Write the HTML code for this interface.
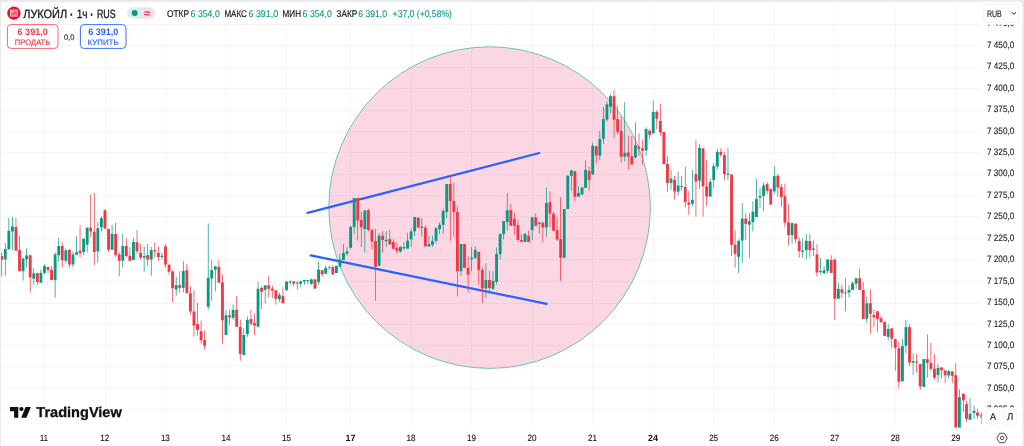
<!DOCTYPE html>
<html lang="ru"><head><meta charset="utf-8"><title>ЛУКОЙЛ · 1ч · RUS — TradingView</title>
<style>html,body{margin:0;padding:0;background:#e9e9e9;}body{width:1024px;height:446px;overflow:hidden;}svg{display:block}text{font-family:"Liberation Sans",sans-serif;text-rendering:geometricPrecision;}</style></head><body>
<svg width="1024" height="446" viewBox="0 0 1024 446">
<rect x="0" y="0" width="1024" height="446" fill="#e9e9e9"/>
<rect x="0.9" y="1.7" width="1021.3" height="460" rx="3" ry="3" fill="#ffffff"/>
<g stroke="#f6f6f7" stroke-width="1">
<line x1="44.5" y1="2" x2="44.5" y2="427.5" stroke="#f7f7f8"/>
<line x1="105.5" y1="2" x2="105.5" y2="427.5" stroke="#f7f7f8"/>
<line x1="165.5" y1="2" x2="165.5" y2="427.5" stroke="#f7f7f8"/>
<line x1="226.5" y1="2" x2="226.5" y2="427.5" stroke="#f7f7f8"/>
<line x1="286.5" y1="2" x2="286.5" y2="427.5" stroke="#f7f7f8"/>
<line x1="350.5" y1="2" x2="350.5" y2="427.5" stroke="#f7f7f8"/>
<line x1="411.5" y1="2" x2="411.5" y2="427.5" stroke="#f7f7f8"/>
<line x1="471.5" y1="2" x2="471.5" y2="427.5" stroke="#f7f7f8"/>
<line x1="532.5" y1="2" x2="532.5" y2="427.5" stroke="#f7f7f8"/>
<line x1="592.5" y1="2" x2="592.5" y2="427.5" stroke="#f7f7f8"/>
<line x1="653.5" y1="2" x2="653.5" y2="427.5" stroke="#f7f7f8"/>
<line x1="713.5" y1="2" x2="713.5" y2="427.5" stroke="#f7f7f8"/>
<line x1="774.5" y1="2" x2="774.5" y2="427.5" stroke="#f7f7f8"/>
<line x1="834.5" y1="2" x2="834.5" y2="427.5" stroke="#f7f7f8"/>
<line x1="895.5" y1="2" x2="895.5" y2="427.5" stroke="#f7f7f8"/>
<line x1="955.5" y1="2" x2="955.5" y2="427.5" stroke="#f7f7f8"/>
<line x1="1" y1="2.9" x2="980.7" y2="2.9" stroke-opacity="0.6"/>
<line x1="1" y1="24.5" x2="980.7" y2="24.5"/>
<line x1="1" y1="45.5" x2="980.7" y2="45.5"/>
<line x1="1" y1="67.5" x2="980.7" y2="67.5"/>
<line x1="1" y1="88.5" x2="980.7" y2="88.5"/>
<line x1="1" y1="110.5" x2="980.7" y2="110.5"/>
<line x1="1" y1="131.5" x2="980.7" y2="131.5"/>
<line x1="1" y1="152.5" x2="980.7" y2="152.5"/>
<line x1="1" y1="174.5" x2="980.7" y2="174.5"/>
<line x1="1" y1="195.5" x2="980.7" y2="195.5"/>
<line x1="1" y1="216.5" x2="980.7" y2="216.5"/>
<line x1="1" y1="238.5" x2="980.7" y2="238.5"/>
<line x1="1" y1="259.5" x2="980.7" y2="259.5"/>
<line x1="1" y1="281.5" x2="980.7" y2="281.5"/>
<line x1="1" y1="303.5" x2="980.7" y2="303.5"/>
<line x1="1" y1="324.5" x2="980.7" y2="324.5"/>
<line x1="1" y1="345.5" x2="980.7" y2="345.5"/>
<line x1="1" y1="366.5" x2="980.7" y2="366.5"/>
<line x1="1" y1="388.5" x2="980.7" y2="388.5"/>
<line x1="1" y1="409.5" x2="980.7" y2="409.5"/>
</g>
<circle cx="489.6" cy="207.6" r="160.8" fill="#e91e63" fill-opacity="0.18" stroke="#6cc3b4" stroke-width="1"/>
<g stroke="#2962ff" stroke-width="2.2" stroke-linecap="round"><line x1="307.5" y1="212.9" x2="539.3" y2="153.0"/><line x1="310.7" y1="255.3" x2="546.6" y2="303.9"/></g>
<clipPath id="cp"><rect x="1" y="2" width="981.0" height="425.5"/></clipPath>
<g id="candles" clip-path="url(#cp)">
<rect x="1.37" y="252.56" width="0.72" height="23.85" fill="#f23645"/>
<rect x="0.31" y="256.07" width="2.85" height="3.77" fill="#f23645"/>
<rect x="4.93" y="243.14" width="0.72" height="32.65" fill="#089981"/>
<rect x="3.86" y="249.04" width="2.85" height="10.42" fill="#089981"/>
<rect x="8.49" y="218.21" width="0.72" height="31.21" fill="#089981"/>
<rect x="7.43" y="230.76" width="2.85" height="18.66" fill="#089981"/>
<rect x="12.05" y="216.95" width="0.72" height="33.10" fill="#089981"/>
<rect x="10.99" y="226.37" width="2.85" height="5.02" fill="#089981"/>
<rect x="15.61" y="218.21" width="0.72" height="32.46" fill="#f23645"/>
<rect x="14.55" y="227.00" width="2.85" height="23.67" fill="#f23645"/>
<rect x="19.17" y="235.79" width="0.72" height="35.35" fill="#f23645"/>
<rect x="18.11" y="250.05" width="2.85" height="21.09" fill="#f23645"/>
<rect x="22.73" y="257.58" width="0.72" height="22.85" fill="#089981"/>
<rect x="21.67" y="258.58" width="2.85" height="12.56" fill="#089981"/>
<rect x="26.29" y="248.54" width="0.72" height="19.08" fill="#089981"/>
<rect x="25.23" y="255.32" width="2.85" height="4.14" fill="#089981"/>
<rect x="29.85" y="254.44" width="0.72" height="38.05" fill="#f23645"/>
<rect x="28.79" y="255.32" width="2.85" height="22.10" fill="#f23645"/>
<rect x="33.41" y="268.25" width="0.72" height="16.33" fill="#089981"/>
<rect x="32.35" y="273.27" width="2.85" height="5.40" fill="#089981"/>
<rect x="36.97" y="272.90" width="0.72" height="11.68" fill="#f23645"/>
<rect x="35.91" y="273.27" width="2.85" height="8.79" fill="#f23645"/>
<rect x="40.53" y="269.51" width="0.72" height="13.43" fill="#089981"/>
<rect x="39.47" y="272.90" width="2.85" height="9.79" fill="#089981"/>
<rect x="44.09" y="264.11" width="0.72" height="10.42" fill="#089981"/>
<rect x="43.03" y="266.12" width="2.85" height="6.78" fill="#089981"/>
<rect x="47.65" y="266.62" width="0.72" height="6.28" fill="#f23645"/>
<rect x="46.59" y="267.00" width="2.85" height="2.88" fill="#f23645"/>
<rect x="51.21" y="266.37" width="0.72" height="13.56" fill="#f23645"/>
<rect x="50.15" y="269.88" width="2.85" height="10.05" fill="#f23645"/>
<rect x="54.77" y="252.31" width="0.72" height="45.45" fill="#089981"/>
<rect x="53.71" y="254.44" width="2.85" height="25.49" fill="#089981"/>
<rect x="58.33" y="238.30" width="0.72" height="23.30" fill="#089981"/>
<rect x="57.27" y="246.03" width="2.85" height="9.29" fill="#089981"/>
<rect x="61.89" y="242.26" width="0.72" height="25.11" fill="#f23645"/>
<rect x="60.83" y="246.03" width="2.85" height="14.31" fill="#f23645"/>
<rect x="65.45" y="248.54" width="0.72" height="15.07" fill="#089981"/>
<rect x="64.39" y="250.30" width="2.85" height="10.42" fill="#089981"/>
<rect x="69.01" y="249.04" width="0.72" height="18.58" fill="#f23645"/>
<rect x="67.95" y="249.79" width="2.85" height="14.70" fill="#f23645"/>
<rect x="72.57" y="251.30" width="0.72" height="16.32" fill="#089981"/>
<rect x="71.51" y="254.44" width="2.85" height="10.05" fill="#089981"/>
<rect x="76.13" y="236.16" width="0.72" height="18.66" fill="#089981"/>
<rect x="75.07" y="252.31" width="2.85" height="2.51" fill="#089981"/>
<rect x="79.69" y="225.11" width="0.72" height="32.47" fill="#f23645"/>
<rect x="78.63" y="250.67" width="2.85" height="2.51" fill="#f23645"/>
<rect x="83.25" y="238.67" width="0.72" height="16.40" fill="#089981"/>
<rect x="82.19" y="238.67" width="2.85" height="13.26" fill="#089981"/>
<rect x="86.81" y="227.62" width="0.72" height="24.94" fill="#089981"/>
<rect x="85.75" y="227.62" width="2.85" height="16.96" fill="#089981"/>
<rect x="90.37" y="194.73" width="0.72" height="42.31" fill="#f23645"/>
<rect x="89.31" y="227.62" width="2.85" height="3.77" fill="#f23645"/>
<rect x="93.93" y="192.84" width="0.72" height="72.27" fill="#f23645"/>
<rect x="92.87" y="231.64" width="2.85" height="20.29" fill="#f23645"/>
<rect x="97.49" y="221.97" width="0.72" height="40.88" fill="#089981"/>
<rect x="96.42" y="228.25" width="2.85" height="23.05" fill="#089981"/>
<rect x="101.05" y="216.32" width="0.72" height="15.07" fill="#089981"/>
<rect x="99.98" y="218.21" width="2.85" height="9.16" fill="#089981"/>
<rect x="104.61" y="209.04" width="0.72" height="19.59" fill="#f23645"/>
<rect x="103.55" y="210.30" width="2.85" height="18.33" fill="#f23645"/>
<rect x="108.17" y="228.88" width="0.72" height="23.05" fill="#f23645"/>
<rect x="107.11" y="228.88" width="2.85" height="20.91" fill="#f23645"/>
<rect x="111.73" y="224.86" width="0.72" height="24.93" fill="#089981"/>
<rect x="110.67" y="233.90" width="2.85" height="15.89" fill="#089981"/>
<rect x="115.29" y="222.85" width="0.72" height="34.10" fill="#f23645"/>
<rect x="114.23" y="233.90" width="2.85" height="20.92" fill="#f23645"/>
<rect x="118.85" y="252.31" width="0.72" height="24.10" fill="#f23645"/>
<rect x="117.79" y="254.44" width="2.85" height="6.28" fill="#f23645"/>
<rect x="122.41" y="233.90" width="0.72" height="33.72" fill="#089981"/>
<rect x="121.35" y="246.03" width="2.85" height="14.69" fill="#089981"/>
<rect x="125.97" y="238.30" width="0.72" height="18.65" fill="#f23645"/>
<rect x="124.91" y="246.03" width="2.85" height="10.04" fill="#f23645"/>
<rect x="129.53" y="247.00" width="0.72" height="13.81" fill="#f23645"/>
<rect x="128.46" y="255.79" width="2.85" height="5.02" fill="#f23645"/>
<rect x="133.09" y="238.21" width="0.72" height="21.72" fill="#089981"/>
<rect x="132.02" y="241.97" width="2.85" height="17.96" fill="#089981"/>
<rect x="136.65" y="230.30" width="0.72" height="23.60" fill="#f23645"/>
<rect x="135.58" y="242.35" width="2.85" height="8.79" fill="#f23645"/>
<rect x="140.21" y="243.61" width="0.72" height="15.94" fill="#f23645"/>
<rect x="139.14" y="252.90" width="2.85" height="4.77" fill="#f23645"/>
<rect x="143.77" y="246.37" width="0.72" height="25.16" fill="#089981"/>
<rect x="142.70" y="256.04" width="2.85" height="1.63" fill="#089981"/>
<rect x="147.33" y="244.11" width="0.72" height="21.72" fill="#f23645"/>
<rect x="146.26" y="255.16" width="2.85" height="4.39" fill="#f23645"/>
<rect x="150.89" y="247.00" width="0.72" height="28.67" fill="#089981"/>
<rect x="149.82" y="250.14" width="2.85" height="9.41" fill="#089981"/>
<rect x="154.45" y="242.35" width="0.72" height="15.07" fill="#f23645"/>
<rect x="153.38" y="250.14" width="2.85" height="1.25" fill="#f23645"/>
<rect x="158.01" y="246.37" width="0.72" height="14.44" fill="#f23645"/>
<rect x="156.94" y="252.90" width="2.85" height="4.14" fill="#f23645"/>
<rect x="161.57" y="252.65" width="0.72" height="6.90" fill="#089981"/>
<rect x="160.50" y="255.79" width="2.85" height="1.25" fill="#089981"/>
<rect x="165.13" y="244.11" width="0.72" height="23.60" fill="#f23645"/>
<rect x="164.06" y="246.37" width="2.85" height="18.21" fill="#f23645"/>
<rect x="168.69" y="264.58" width="0.72" height="10.04" fill="#f23645"/>
<rect x="167.62" y="264.58" width="2.85" height="7.15" fill="#f23645"/>
<rect x="172.25" y="270.02" width="0.72" height="32.02" fill="#f23645"/>
<rect x="171.19" y="271.53" width="2.85" height="16.70" fill="#f23645"/>
<rect x="175.81" y="276.93" width="0.72" height="18.83" fill="#089981"/>
<rect x="174.75" y="285.09" width="2.85" height="4.40" fill="#089981"/>
<rect x="179.37" y="271.28" width="0.72" height="21.60" fill="#f23645"/>
<rect x="178.31" y="285.09" width="2.85" height="2.76" fill="#f23645"/>
<rect x="182.93" y="261.19" width="0.72" height="31.18" fill="#089981"/>
<rect x="181.87" y="271.03" width="2.85" height="16.82" fill="#089981"/>
<rect x="186.49" y="264.20" width="0.72" height="29.68" fill="#f23645"/>
<rect x="185.43" y="270.27" width="2.85" height="22.61" fill="#f23645"/>
<rect x="190.05" y="286.09" width="0.72" height="28.44" fill="#f23645"/>
<rect x="188.99" y="293.25" width="2.85" height="18.27" fill="#f23645"/>
<rect x="193.61" y="290.11" width="0.72" height="46.52" fill="#f23645"/>
<rect x="192.55" y="311.52" width="2.85" height="14.06" fill="#f23645"/>
<rect x="197.17" y="302.67" width="0.72" height="32.95" fill="#f23645"/>
<rect x="196.11" y="324.07" width="2.85" height="5.90" fill="#f23645"/>
<rect x="200.73" y="320.56" width="0.72" height="23.23" fill="#f23645"/>
<rect x="199.67" y="331.23" width="2.85" height="9.17" fill="#f23645"/>
<rect x="204.29" y="330.35" width="0.72" height="19.09" fill="#f23645"/>
<rect x="203.22" y="340.02" width="2.85" height="5.65" fill="#f23645"/>
<rect x="207.85" y="223.52" width="0.72" height="86.06" fill="#089981"/>
<rect x="206.78" y="277.81" width="2.85" height="28.88" fill="#089981"/>
<rect x="211.41" y="259.55" width="0.72" height="41.24" fill="#089981"/>
<rect x="210.34" y="270.02" width="2.85" height="8.54" fill="#089981"/>
<rect x="214.97" y="266.21" width="0.72" height="25.16" fill="#089981"/>
<rect x="213.90" y="266.26" width="2.85" height="3.51" fill="#089981"/>
<rect x="218.53" y="260.43" width="0.72" height="22.15" fill="#f23645"/>
<rect x="217.46" y="266.88" width="2.85" height="15.70" fill="#f23645"/>
<rect x="222.09" y="274.42" width="0.72" height="69.37" fill="#f23645"/>
<rect x="221.02" y="282.33" width="2.85" height="37.98" fill="#f23645"/>
<rect x="225.65" y="310.26" width="0.72" height="24.74" fill="#089981"/>
<rect x="224.58" y="315.28" width="2.85" height="19.72" fill="#089981"/>
<rect x="229.21" y="309.26" width="0.72" height="16.32" fill="#f23645"/>
<rect x="228.14" y="315.28" width="2.85" height="2.14" fill="#f23645"/>
<rect x="232.77" y="304.55" width="0.72" height="15.38" fill="#089981"/>
<rect x="231.70" y="309.88" width="2.85" height="7.91" fill="#089981"/>
<rect x="236.33" y="296.14" width="0.72" height="30.69" fill="#f23645"/>
<rect x="235.26" y="309.88" width="2.85" height="16.95" fill="#f23645"/>
<rect x="239.89" y="319.93" width="0.72" height="40.81" fill="#f23645"/>
<rect x="238.82" y="326.83" width="2.85" height="27.00" fill="#f23645"/>
<rect x="243.45" y="328.34" width="0.72" height="26.75" fill="#089981"/>
<rect x="242.38" y="335.00" width="2.85" height="20.09" fill="#089981"/>
<rect x="247.01" y="316.54" width="0.72" height="20.34" fill="#089981"/>
<rect x="245.94" y="319.93" width="2.85" height="14.19" fill="#089981"/>
<rect x="250.57" y="309.88" width="0.72" height="15.70" fill="#f23645"/>
<rect x="249.50" y="319.05" width="2.85" height="4.65" fill="#f23645"/>
<rect x="254.13" y="313.65" width="0.72" height="21.35" fill="#f23645"/>
<rect x="253.06" y="323.07" width="2.85" height="2.51" fill="#f23645"/>
<rect x="257.69" y="281.93" width="0.72" height="45.69" fill="#089981"/>
<rect x="256.62" y="288.83" width="2.85" height="37.79" fill="#089981"/>
<rect x="261.25" y="286.32" width="0.72" height="23.23" fill="#f23645"/>
<rect x="260.19" y="287.83" width="2.85" height="3.77" fill="#f23645"/>
<rect x="264.81" y="284.82" width="0.72" height="18.83" fill="#089981"/>
<rect x="263.75" y="285.32" width="2.85" height="4.52" fill="#089981"/>
<rect x="268.37" y="276.28" width="0.72" height="21.34" fill="#f23645"/>
<rect x="267.31" y="285.32" width="2.85" height="3.51" fill="#f23645"/>
<rect x="271.93" y="285.70" width="0.72" height="12.18" fill="#f23645"/>
<rect x="270.87" y="288.58" width="2.85" height="2.14" fill="#f23645"/>
<rect x="275.49" y="290.34" width="0.72" height="14.19" fill="#f23645"/>
<rect x="274.43" y="290.34" width="2.85" height="8.54" fill="#f23645"/>
<rect x="279.05" y="292.85" width="0.72" height="9.17" fill="#089981"/>
<rect x="277.99" y="295.11" width="2.85" height="4.02" fill="#089981"/>
<rect x="282.61" y="286.95" width="0.72" height="16.32" fill="#f23645"/>
<rect x="281.55" y="296.12" width="2.85" height="7.15" fill="#f23645"/>
<rect x="286.17" y="281.05" width="0.72" height="10.04" fill="#089981"/>
<rect x="285.11" y="281.55" width="2.85" height="8.54" fill="#089981"/>
<rect x="289.73" y="280.05" width="0.72" height="4.77" fill="#089981"/>
<rect x="288.67" y="281.55" width="2.85" height="1.01" fill="#089981"/>
<rect x="293.29" y="281.30" width="0.72" height="4.77" fill="#f23645"/>
<rect x="292.23" y="281.30" width="2.85" height="2.26" fill="#f23645"/>
<rect x="296.85" y="281.05" width="0.72" height="8.41" fill="#089981"/>
<rect x="295.78" y="282.56" width="2.85" height="1.00" fill="#089981"/>
<rect x="300.41" y="280.67" width="0.72" height="6.91" fill="#089981"/>
<rect x="299.34" y="281.30" width="2.85" height="2.51" fill="#089981"/>
<rect x="303.97" y="279.79" width="0.72" height="5.03" fill="#089981"/>
<rect x="302.90" y="280.05" width="2.85" height="1.50" fill="#089981"/>
<rect x="307.53" y="279.79" width="0.72" height="4.27" fill="#089981"/>
<rect x="306.46" y="280.05" width="2.85" height="1.00" fill="#089981"/>
<rect x="311.09" y="278.79" width="0.72" height="6.03" fill="#089981"/>
<rect x="310.02" y="279.42" width="2.85" height="4.39" fill="#089981"/>
<rect x="314.65" y="279.04" width="0.72" height="9.79" fill="#f23645"/>
<rect x="313.58" y="279.42" width="2.85" height="9.16" fill="#f23645"/>
<rect x="318.21" y="261.16" width="0.72" height="23.66" fill="#089981"/>
<rect x="317.14" y="269.58" width="2.85" height="12.35" fill="#089981"/>
<rect x="321.77" y="270.20" width="0.72" height="6.28" fill="#f23645"/>
<rect x="320.70" y="270.20" width="2.85" height="4.02" fill="#f23645"/>
<rect x="325.33" y="265.81" width="0.72" height="7.91" fill="#089981"/>
<rect x="324.26" y="267.94" width="2.85" height="5.78" fill="#089981"/>
<rect x="328.89" y="265.81" width="0.72" height="2.89" fill="#089981"/>
<rect x="327.82" y="267.44" width="2.85" height="0.88" fill="#089981"/>
<rect x="332.45" y="265.18" width="0.72" height="10.05" fill="#f23645"/>
<rect x="331.38" y="267.06" width="2.85" height="7.16" fill="#f23645"/>
<rect x="336.01" y="265.81" width="0.72" height="7.16" fill="#089981"/>
<rect x="334.94" y="265.81" width="2.85" height="7.16" fill="#089981"/>
<rect x="339.57" y="253.88" width="0.72" height="12.81" fill="#089981"/>
<rect x="338.50" y="259.53" width="2.85" height="7.16" fill="#089981"/>
<rect x="343.13" y="244.09" width="0.72" height="15.82" fill="#089981"/>
<rect x="342.06" y="252.88" width="2.85" height="7.03" fill="#089981"/>
<rect x="346.69" y="247.35" width="0.72" height="8.41" fill="#089981"/>
<rect x="345.62" y="251.37" width="2.85" height="2.26" fill="#089981"/>
<rect x="350.25" y="226.73" width="0.72" height="22.13" fill="#089981"/>
<rect x="349.19" y="226.73" width="2.85" height="21.12" fill="#089981"/>
<rect x="353.81" y="197.98" width="0.72" height="36.06" fill="#089981"/>
<rect x="352.75" y="197.98" width="2.85" height="29.13" fill="#089981"/>
<rect x="357.37" y="197.98" width="0.72" height="42.72" fill="#f23645"/>
<rect x="356.31" y="197.98" width="2.85" height="22.47" fill="#f23645"/>
<rect x="360.93" y="211.66" width="0.72" height="35.31" fill="#f23645"/>
<rect x="359.87" y="219.95" width="2.85" height="7.16" fill="#f23645"/>
<rect x="364.49" y="210.41" width="0.72" height="42.21" fill="#089981"/>
<rect x="363.42" y="210.41" width="2.85" height="18.58" fill="#089981"/>
<rect x="368.05" y="208.90" width="0.72" height="22.38" fill="#f23645"/>
<rect x="366.98" y="210.16" width="2.85" height="19.84" fill="#f23645"/>
<rect x="371.61" y="229.62" width="0.72" height="19.87" fill="#f23645"/>
<rect x="370.54" y="229.62" width="2.85" height="11.95" fill="#f23645"/>
<rect x="375.17" y="228.77" width="0.72" height="71.82" fill="#f23645"/>
<rect x="374.10" y="241.07" width="2.85" height="25.62" fill="#f23645"/>
<rect x="378.73" y="232.79" width="0.72" height="33.02" fill="#089981"/>
<rect x="377.66" y="235.67" width="2.85" height="30.14" fill="#089981"/>
<rect x="382.29" y="231.28" width="0.72" height="21.34" fill="#f23645"/>
<rect x="381.22" y="235.67" width="2.85" height="4.40" fill="#f23645"/>
<rect x="385.85" y="231.28" width="0.72" height="15.69" fill="#089981"/>
<rect x="384.78" y="239.82" width="2.85" height="1.25" fill="#089981"/>
<rect x="389.41" y="230.02" width="0.72" height="14.44" fill="#f23645"/>
<rect x="388.34" y="239.06" width="2.85" height="5.40" fill="#f23645"/>
<rect x="392.97" y="239.06" width="0.72" height="9.80" fill="#f23645"/>
<rect x="391.90" y="241.95" width="2.85" height="6.91" fill="#f23645"/>
<rect x="396.53" y="242.58" width="0.72" height="11.30" fill="#f23645"/>
<rect x="395.46" y="247.85" width="2.85" height="2.89" fill="#f23645"/>
<rect x="400.09" y="246.09" width="0.72" height="6.53" fill="#089981"/>
<rect x="399.02" y="246.97" width="2.85" height="4.65" fill="#089981"/>
<rect x="403.65" y="242.33" width="0.72" height="7.78" fill="#089981"/>
<rect x="402.58" y="246.97" width="2.85" height="1.26" fill="#089981"/>
<rect x="407.21" y="232.79" width="0.72" height="15.82" fill="#089981"/>
<rect x="406.14" y="240.70" width="2.85" height="7.91" fill="#089981"/>
<rect x="410.77" y="228.37" width="0.72" height="18.60" fill="#089981"/>
<rect x="409.70" y="231.53" width="2.85" height="7.91" fill="#089981"/>
<rect x="414.33" y="217.06" width="0.72" height="18.99" fill="#089981"/>
<rect x="413.26" y="217.06" width="2.85" height="14.22" fill="#089981"/>
<rect x="417.89" y="217.06" width="0.72" height="11.31" fill="#f23645"/>
<rect x="416.82" y="217.69" width="2.85" height="9.80" fill="#f23645"/>
<rect x="421.45" y="218.32" width="0.72" height="18.23" fill="#089981"/>
<rect x="420.38" y="226.73" width="2.85" height="1.26" fill="#089981"/>
<rect x="425.01" y="225.23" width="0.72" height="21.12" fill="#f23645"/>
<rect x="423.94" y="227.74" width="2.85" height="18.61" fill="#f23645"/>
<rect x="428.57" y="235.67" width="0.72" height="11.30" fill="#089981"/>
<rect x="427.50" y="244.09" width="2.85" height="2.26" fill="#089981"/>
<rect x="432.13" y="235.67" width="0.72" height="11.30" fill="#089981"/>
<rect x="431.06" y="241.07" width="2.85" height="3.77" fill="#089981"/>
<rect x="435.69" y="227.11" width="0.72" height="16.72" fill="#089981"/>
<rect x="434.62" y="228.25" width="2.85" height="12.56" fill="#089981"/>
<rect x="439.25" y="222.60" width="0.72" height="11.30" fill="#089981"/>
<rect x="438.19" y="224.86" width="2.85" height="4.27" fill="#089981"/>
<rect x="442.81" y="208.79" width="0.72" height="25.11" fill="#089981"/>
<rect x="441.75" y="211.05" width="2.85" height="13.81" fill="#089981"/>
<rect x="446.37" y="184.04" width="0.72" height="34.17" fill="#089981"/>
<rect x="445.31" y="184.04" width="2.85" height="27.89" fill="#089981"/>
<rect x="449.93" y="175.13" width="0.72" height="65.68" fill="#f23645"/>
<rect x="448.87" y="184.04" width="2.85" height="16.96" fill="#f23645"/>
<rect x="453.49" y="182.53" width="0.72" height="54.51" fill="#f23645"/>
<rect x="452.43" y="201.00" width="2.85" height="10.93" fill="#f23645"/>
<rect x="457.05" y="206.28" width="0.72" height="90.06" fill="#f23645"/>
<rect x="455.98" y="211.93" width="2.85" height="59.30" fill="#f23645"/>
<rect x="460.61" y="243.95" width="0.72" height="32.30" fill="#089981"/>
<rect x="459.54" y="243.95" width="2.85" height="27.28" fill="#089981"/>
<rect x="464.17" y="243.95" width="0.72" height="23.89" fill="#f23645"/>
<rect x="463.10" y="243.95" width="2.85" height="23.89" fill="#f23645"/>
<rect x="467.73" y="256.16" width="0.72" height="36.42" fill="#f23645"/>
<rect x="466.66" y="267.84" width="2.85" height="6.78" fill="#f23645"/>
<rect x="471.29" y="247.09" width="0.72" height="24.14" fill="#089981"/>
<rect x="470.22" y="257.79" width="2.85" height="1.51" fill="#089981"/>
<rect x="474.85" y="246.46" width="0.72" height="12.59" fill="#089981"/>
<rect x="473.78" y="249.88" width="2.85" height="7.91" fill="#089981"/>
<rect x="478.41" y="251.77" width="0.72" height="33.27" fill="#f23645"/>
<rect x="477.34" y="251.77" width="2.85" height="18.20" fill="#f23645"/>
<rect x="481.97" y="267.46" width="0.72" height="35.54" fill="#f23645"/>
<rect x="480.90" y="269.97" width="2.85" height="18.46" fill="#f23645"/>
<rect x="485.53" y="263.32" width="0.72" height="34.65" fill="#089981"/>
<rect x="484.46" y="280.02" width="2.85" height="8.41" fill="#089981"/>
<rect x="489.09" y="270.85" width="0.72" height="22.98" fill="#f23645"/>
<rect x="488.02" y="280.02" width="2.85" height="7.91" fill="#f23645"/>
<rect x="492.65" y="271.23" width="0.72" height="18.83" fill="#089981"/>
<rect x="491.58" y="280.90" width="2.85" height="7.91" fill="#089981"/>
<rect x="496.21" y="247.46" width="0.72" height="37.20" fill="#089981"/>
<rect x="495.14" y="254.03" width="2.85" height="27.87" fill="#089981"/>
<rect x="499.77" y="233.90" width="0.72" height="25.65" fill="#089981"/>
<rect x="498.70" y="233.90" width="2.85" height="20.13" fill="#089981"/>
<rect x="503.33" y="221.09" width="0.72" height="18.46" fill="#089981"/>
<rect x="502.26" y="221.09" width="2.85" height="13.06" fill="#089981"/>
<rect x="506.89" y="193.09" width="0.72" height="37.67" fill="#089981"/>
<rect x="505.82" y="210.30" width="2.85" height="11.67" fill="#089981"/>
<rect x="510.45" y="204.02" width="0.72" height="21.72" fill="#f23645"/>
<rect x="509.38" y="210.05" width="2.85" height="15.69" fill="#f23645"/>
<rect x="514.01" y="212.56" width="0.72" height="22.35" fill="#f23645"/>
<rect x="512.95" y="218.58" width="2.85" height="7.16" fill="#f23645"/>
<rect x="517.57" y="220.09" width="0.72" height="21.97" fill="#f23645"/>
<rect x="516.51" y="225.11" width="2.85" height="14.82" fill="#f23645"/>
<rect x="521.13" y="233.90" width="0.72" height="7.79" fill="#f23645"/>
<rect x="520.07" y="239.93" width="2.85" height="1.76" fill="#f23645"/>
<rect x="524.69" y="232.90" width="0.72" height="9.16" fill="#089981"/>
<rect x="523.63" y="233.90" width="2.85" height="8.16" fill="#089981"/>
<rect x="528.25" y="230.76" width="0.72" height="11.30" fill="#f23645"/>
<rect x="527.19" y="235.79" width="2.85" height="6.27" fill="#f23645"/>
<rect x="531.81" y="217.33" width="0.72" height="22.60" fill="#089981"/>
<rect x="530.75" y="217.33" width="2.85" height="12.81" fill="#089981"/>
<rect x="535.37" y="213.18" width="0.72" height="12.56" fill="#f23645"/>
<rect x="534.31" y="217.33" width="2.85" height="8.41" fill="#f23645"/>
<rect x="538.93" y="222.35" width="0.72" height="11.55" fill="#089981"/>
<rect x="537.87" y="222.35" width="2.85" height="1.51" fill="#089981"/>
<rect x="542.49" y="221.35" width="0.72" height="20.71" fill="#f23645"/>
<rect x="541.43" y="222.85" width="2.85" height="4.52" fill="#f23645"/>
<rect x="546.05" y="187.57" width="0.72" height="49.09" fill="#089981"/>
<rect x="544.99" y="203.14" width="2.85" height="24.23" fill="#089981"/>
<rect x="549.61" y="191.44" width="0.72" height="35.56" fill="#f23645"/>
<rect x="548.55" y="202.11" width="2.85" height="11.45" fill="#f23645"/>
<rect x="553.17" y="211.55" width="0.72" height="19.21" fill="#f23645"/>
<rect x="552.11" y="213.81" width="2.85" height="16.95" fill="#f23645"/>
<rect x="556.73" y="216.95" width="0.72" height="23.86" fill="#f23645"/>
<rect x="555.67" y="230.14" width="2.85" height="9.41" fill="#f23645"/>
<rect x="560.29" y="197.09" width="0.72" height="83.81" fill="#f23645"/>
<rect x="559.23" y="238.93" width="2.85" height="18.86" fill="#f23645"/>
<rect x="563.85" y="209.04" width="0.72" height="48.75" fill="#089981"/>
<rect x="562.79" y="209.04" width="2.85" height="48.75" fill="#089981"/>
<rect x="567.41" y="175.11" width="0.72" height="33.91" fill="#089981"/>
<rect x="566.35" y="175.74" width="2.85" height="33.28" fill="#089981"/>
<rect x="570.97" y="170.34" width="0.72" height="20.47" fill="#089981"/>
<rect x="569.91" y="170.34" width="2.85" height="5.40" fill="#089981"/>
<rect x="574.53" y="171.09" width="0.72" height="29.76" fill="#f23645"/>
<rect x="573.47" y="171.09" width="2.85" height="25.62" fill="#f23645"/>
<rect x="578.09" y="186.16" width="0.72" height="10.55" fill="#089981"/>
<rect x="577.03" y="192.94" width="2.85" height="3.77" fill="#089981"/>
<rect x="581.65" y="187.42" width="0.72" height="7.16" fill="#089981"/>
<rect x="580.59" y="187.42" width="2.85" height="7.16" fill="#089981"/>
<rect x="585.21" y="160.30" width="0.72" height="27.62" fill="#089981"/>
<rect x="584.15" y="169.84" width="2.85" height="18.08" fill="#089981"/>
<rect x="588.77" y="166.32" width="0.72" height="24.49" fill="#f23645"/>
<rect x="587.71" y="170.72" width="2.85" height="9.16" fill="#f23645"/>
<rect x="592.33" y="142.59" width="0.72" height="31.90" fill="#089981"/>
<rect x="591.27" y="145.73" width="2.85" height="28.76" fill="#089981"/>
<rect x="595.89" y="146.11" width="0.72" height="17.45" fill="#f23645"/>
<rect x="594.83" y="146.11" width="2.85" height="9.54" fill="#f23645"/>
<rect x="599.45" y="131.17" width="0.72" height="28.88" fill="#089981"/>
<rect x="598.39" y="138.95" width="2.85" height="16.70" fill="#089981"/>
<rect x="603.01" y="106.83" width="0.72" height="37.17" fill="#089981"/>
<rect x="601.95" y="119.14" width="2.85" height="19.71" fill="#089981"/>
<rect x="606.57" y="101.56" width="0.72" height="20.09" fill="#089981"/>
<rect x="605.51" y="104.32" width="2.85" height="15.32" fill="#089981"/>
<rect x="610.13" y="94.03" width="0.72" height="19.71" fill="#089981"/>
<rect x="609.07" y="96.16" width="2.85" height="10.67" fill="#089981"/>
<rect x="613.69" y="89.88" width="0.72" height="47.72" fill="#f23645"/>
<rect x="612.63" y="96.16" width="2.85" height="23.48" fill="#f23645"/>
<rect x="617.25" y="105.58" width="0.72" height="28.88" fill="#f23645"/>
<rect x="616.19" y="119.14" width="2.85" height="12.56" fill="#f23645"/>
<rect x="620.81" y="116.25" width="0.72" height="46.44" fill="#f23645"/>
<rect x="619.75" y="131.05" width="2.85" height="25.61" fill="#f23645"/>
<rect x="624.37" y="102.06" width="0.72" height="59.38" fill="#089981"/>
<rect x="623.31" y="152.90" width="2.85" height="3.76" fill="#089981"/>
<rect x="627.93" y="135.70" width="0.72" height="33.90" fill="#f23645"/>
<rect x="626.87" y="152.40" width="2.85" height="4.26" fill="#f23645"/>
<rect x="631.49" y="136.07" width="0.72" height="28.51" fill="#f23645"/>
<rect x="630.43" y="156.41" width="2.85" height="8.17" fill="#f23645"/>
<rect x="635.05" y="122.26" width="0.72" height="36.41" fill="#089981"/>
<rect x="633.99" y="145.11" width="2.85" height="12.31" fill="#089981"/>
<rect x="638.61" y="133.18" width="0.72" height="22.61" fill="#f23645"/>
<rect x="637.55" y="146.62" width="2.85" height="2.01" fill="#f23645"/>
<rect x="642.17" y="139.46" width="0.72" height="25.12" fill="#f23645"/>
<rect x="641.11" y="148.25" width="2.85" height="2.51" fill="#f23645"/>
<rect x="645.73" y="127.28" width="0.72" height="28.51" fill="#089981"/>
<rect x="644.67" y="129.04" width="2.85" height="21.35" fill="#089981"/>
<rect x="649.29" y="129.04" width="0.72" height="9.79" fill="#f23645"/>
<rect x="648.23" y="130.67" width="2.85" height="4.15" fill="#f23645"/>
<rect x="652.85" y="100.81" width="0.72" height="32.64" fill="#089981"/>
<rect x="651.79" y="111.86" width="2.85" height="21.59" fill="#089981"/>
<rect x="656.41" y="109.97" width="0.72" height="19.47" fill="#f23645"/>
<rect x="655.35" y="111.86" width="2.85" height="6.90" fill="#f23645"/>
<rect x="659.97" y="103.70" width="0.72" height="32.00" fill="#f23645"/>
<rect x="658.91" y="120.90" width="2.85" height="11.66" fill="#f23645"/>
<rect x="663.53" y="131.93" width="0.72" height="32.27" fill="#f23645"/>
<rect x="662.47" y="131.93" width="2.85" height="32.27" fill="#f23645"/>
<rect x="667.09" y="156.41" width="0.72" height="35.28" fill="#f23645"/>
<rect x="666.03" y="163.95" width="2.85" height="18.95" fill="#f23645"/>
<rect x="670.65" y="170.23" width="0.72" height="19.70" fill="#089981"/>
<rect x="669.59" y="178.63" width="2.85" height="4.27" fill="#089981"/>
<rect x="674.21" y="175.74" width="0.72" height="23.78" fill="#f23645"/>
<rect x="673.15" y="179.88" width="2.85" height="11.56" fill="#f23645"/>
<rect x="677.77" y="171.60" width="0.72" height="23.85" fill="#089981"/>
<rect x="676.71" y="185.41" width="2.85" height="6.28" fill="#089981"/>
<rect x="681.33" y="176.12" width="0.72" height="14.69" fill="#089981"/>
<rect x="680.27" y="186.16" width="2.85" height="0.88" fill="#089981"/>
<rect x="684.89" y="166.95" width="0.72" height="40.60" fill="#f23645"/>
<rect x="683.83" y="187.04" width="2.85" height="14.99" fill="#f23645"/>
<rect x="688.45" y="190.81" width="0.72" height="24.02" fill="#f23645"/>
<rect x="687.39" y="202.53" width="2.85" height="2.26" fill="#f23645"/>
<rect x="692.01" y="170.09" width="0.72" height="35.96" fill="#089981"/>
<rect x="690.95" y="199.77" width="2.85" height="4.02" fill="#089981"/>
<rect x="695.57" y="139.84" width="0.72" height="76.88" fill="#f23645"/>
<rect x="694.51" y="174.11" width="2.85" height="7.53" fill="#f23645"/>
<rect x="699.13" y="144.11" width="0.72" height="44.82" fill="#089981"/>
<rect x="698.07" y="147.88" width="2.85" height="32.88" fill="#089981"/>
<rect x="702.69" y="148.25" width="0.72" height="68.47" fill="#f23645"/>
<rect x="701.63" y="148.25" width="2.85" height="38.16" fill="#f23645"/>
<rect x="706.25" y="159.79" width="0.72" height="46.26" fill="#f23645"/>
<rect x="705.19" y="186.41" width="2.85" height="10.22" fill="#f23645"/>
<rect x="709.81" y="178.63" width="0.72" height="18.00" fill="#089981"/>
<rect x="708.75" y="182.02" width="2.85" height="14.61" fill="#089981"/>
<rect x="713.37" y="163.18" width="0.72" height="24.49" fill="#089981"/>
<rect x="712.31" y="166.07" width="2.85" height="13.81" fill="#089981"/>
<rect x="716.93" y="148.63" width="0.72" height="20.46" fill="#089981"/>
<rect x="715.87" y="151.88" width="2.85" height="14.69" fill="#089981"/>
<rect x="720.49" y="148.25" width="0.72" height="9.03" fill="#f23645"/>
<rect x="719.43" y="151.88" width="2.85" height="2.89" fill="#f23645"/>
<rect x="724.05" y="151.88" width="0.72" height="28.26" fill="#f23645"/>
<rect x="722.99" y="155.02" width="2.85" height="19.09" fill="#f23645"/>
<rect x="727.61" y="148.25" width="0.72" height="31.63" fill="#089981"/>
<rect x="726.55" y="173.61" width="2.85" height="1.25" fill="#089981"/>
<rect x="731.17" y="174.49" width="0.72" height="81.37" fill="#f23645"/>
<rect x="730.11" y="174.49" width="2.85" height="70.32" fill="#f23645"/>
<rect x="734.73" y="230.15" width="0.72" height="37.26" fill="#f23645"/>
<rect x="733.67" y="244.56" width="2.85" height="9.41" fill="#f23645"/>
<rect x="738.29" y="239.28" width="0.72" height="33.53" fill="#089981"/>
<rect x="737.23" y="241.04" width="2.85" height="15.82" fill="#089981"/>
<rect x="741.85" y="203.28" width="0.72" height="59.48" fill="#089981"/>
<rect x="740.79" y="218.60" width="2.85" height="21.94" fill="#089981"/>
<rect x="745.41" y="212.95" width="0.72" height="27.00" fill="#f23645"/>
<rect x="744.35" y="218.60" width="2.85" height="5.28" fill="#f23645"/>
<rect x="748.97" y="212.95" width="0.72" height="44.79" fill="#089981"/>
<rect x="747.91" y="221.36" width="2.85" height="3.27" fill="#089981"/>
<rect x="752.53" y="201.27" width="0.72" height="30.14" fill="#089981"/>
<rect x="751.47" y="211.70" width="2.85" height="10.42" fill="#089981"/>
<rect x="756.09" y="178.63" width="0.72" height="38.46" fill="#089981"/>
<rect x="755.03" y="199.14" width="2.85" height="17.95" fill="#089981"/>
<rect x="759.65" y="187.67" width="0.72" height="20.26" fill="#089981"/>
<rect x="758.59" y="195.83" width="2.85" height="1.63" fill="#089981"/>
<rect x="763.21" y="182.40" width="0.72" height="28.42" fill="#089981"/>
<rect x="762.15" y="185.41" width="2.85" height="10.42" fill="#089981"/>
<rect x="766.77" y="182.02" width="0.72" height="12.18" fill="#f23645"/>
<rect x="765.71" y="184.15" width="2.85" height="6.66" fill="#f23645"/>
<rect x="770.33" y="188.93" width="0.72" height="15.61" fill="#f23645"/>
<rect x="769.27" y="188.93" width="2.85" height="15.61" fill="#f23645"/>
<rect x="773.89" y="166.32" width="0.72" height="27.88" fill="#089981"/>
<rect x="772.83" y="176.12" width="2.85" height="15.32" fill="#089981"/>
<rect x="777.45" y="174.11" width="0.72" height="22.60" fill="#f23645"/>
<rect x="776.39" y="175.74" width="2.85" height="11.68" fill="#f23645"/>
<rect x="781.01" y="183.90" width="0.72" height="22.77" fill="#f23645"/>
<rect x="779.95" y="187.04" width="2.85" height="9.96" fill="#f23645"/>
<rect x="784.57" y="183.65" width="0.72" height="43.74" fill="#f23645"/>
<rect x="783.51" y="196.21" width="2.85" height="26.41" fill="#f23645"/>
<rect x="788.13" y="204.16" width="0.72" height="41.40" fill="#f23645"/>
<rect x="787.07" y="222.37" width="2.85" height="12.77" fill="#f23645"/>
<rect x="791.69" y="222.33" width="0.72" height="21.34" fill="#089981"/>
<rect x="790.63" y="223.21" width="2.85" height="11.93" fill="#089981"/>
<rect x="795.25" y="223.58" width="0.72" height="19.72" fill="#f23645"/>
<rect x="794.19" y="223.58" width="2.85" height="15.57" fill="#f23645"/>
<rect x="798.81" y="237.27" width="0.72" height="20.47" fill="#f23645"/>
<rect x="797.75" y="240.79" width="2.85" height="10.30" fill="#f23645"/>
<rect x="802.37" y="238.28" width="0.72" height="19.46" fill="#089981"/>
<rect x="801.31" y="250.58" width="2.85" height="1.26" fill="#089981"/>
<rect x="805.93" y="233.88" width="0.72" height="25.49" fill="#089981"/>
<rect x="804.87" y="240.79" width="2.85" height="9.42" fill="#089981"/>
<rect x="809.49" y="233.88" width="0.72" height="23.86" fill="#f23645"/>
<rect x="808.43" y="241.04" width="2.85" height="9.17" fill="#f23645"/>
<rect x="813.05" y="240.54" width="0.72" height="15.32" fill="#089981"/>
<rect x="811.99" y="248.57" width="2.85" height="1.26" fill="#089981"/>
<rect x="816.61" y="244.31" width="0.72" height="32.27" fill="#f23645"/>
<rect x="815.55" y="254.35" width="2.85" height="18.08" fill="#f23645"/>
<rect x="820.17" y="257.74" width="0.72" height="16.70" fill="#089981"/>
<rect x="819.11" y="271.18" width="2.85" height="1.00" fill="#089981"/>
<rect x="823.73" y="266.15" width="0.72" height="7.91" fill="#089981"/>
<rect x="822.67" y="270.30" width="2.85" height="2.89" fill="#089981"/>
<rect x="827.29" y="259.42" width="0.72" height="14.19" fill="#089981"/>
<rect x="826.23" y="259.42" width="2.85" height="11.30" fill="#089981"/>
<rect x="830.85" y="255.27" width="0.72" height="17.58" fill="#f23645"/>
<rect x="829.79" y="260.05" width="2.85" height="12.80" fill="#f23645"/>
<rect x="834.41" y="259.42" width="0.72" height="60.44" fill="#f23645"/>
<rect x="833.35" y="259.42" width="2.85" height="39.34" fill="#f23645"/>
<rect x="837.97" y="282.90" width="0.72" height="15.82" fill="#089981"/>
<rect x="836.91" y="288.93" width="2.85" height="9.79" fill="#089981"/>
<rect x="841.53" y="284.53" width="0.72" height="13.18" fill="#f23645"/>
<rect x="840.47" y="289.18" width="2.85" height="3.51" fill="#f23645"/>
<rect x="845.09" y="278.25" width="0.72" height="33.07" fill="#089981"/>
<rect x="844.03" y="292.44" width="2.85" height="0.88" fill="#089981"/>
<rect x="848.65" y="285.41" width="0.72" height="12.30" fill="#089981"/>
<rect x="847.59" y="289.93" width="2.85" height="2.51" fill="#089981"/>
<rect x="852.21" y="281.14" width="0.72" height="8.79" fill="#089981"/>
<rect x="851.15" y="283.27" width="2.85" height="6.66" fill="#089981"/>
<rect x="855.77" y="278.25" width="0.72" height="10.42" fill="#089981"/>
<rect x="854.71" y="278.25" width="2.85" height="5.40" fill="#089981"/>
<rect x="859.33" y="268.58" width="0.72" height="21.35" fill="#f23645"/>
<rect x="858.27" y="278.25" width="2.85" height="11.68" fill="#f23645"/>
<rect x="862.89" y="282.02" width="0.72" height="36.83" fill="#f23645"/>
<rect x="861.83" y="289.93" width="2.85" height="28.92" fill="#f23645"/>
<rect x="866.45" y="296.46" width="0.72" height="26.54" fill="#089981"/>
<rect x="865.39" y="303.28" width="2.85" height="15.57" fill="#089981"/>
<rect x="870.01" y="289.55" width="0.72" height="44.37" fill="#f23645"/>
<rect x="868.95" y="303.28" width="2.85" height="10.55" fill="#f23645"/>
<rect x="873.57" y="309.81" width="0.72" height="17.33" fill="#f23645"/>
<rect x="872.51" y="315.09" width="2.85" height="2.26" fill="#f23645"/>
<rect x="877.13" y="311.32" width="0.72" height="21.09" fill="#f23645"/>
<rect x="876.07" y="311.32" width="2.85" height="7.53" fill="#f23645"/>
<rect x="880.69" y="315.46" width="0.72" height="7.91" fill="#f23645"/>
<rect x="879.63" y="318.35" width="2.85" height="3.77" fill="#f23645"/>
<rect x="884.25" y="321.74" width="0.72" height="14.19" fill="#f23645"/>
<rect x="883.19" y="321.74" width="2.85" height="14.19" fill="#f23645"/>
<rect x="887.81" y="324.25" width="0.72" height="16.33" fill="#089981"/>
<rect x="886.75" y="328.90" width="2.85" height="7.91" fill="#089981"/>
<rect x="891.37" y="328.40" width="0.72" height="19.33" fill="#f23645"/>
<rect x="890.31" y="328.40" width="2.85" height="10.29" fill="#f23645"/>
<rect x="894.93" y="338.94" width="0.72" height="31.85" fill="#f23645"/>
<rect x="893.87" y="339.02" width="2.85" height="8.79" fill="#f23645"/>
<rect x="898.49" y="341.91" width="0.72" height="46.46" fill="#f23645"/>
<rect x="897.43" y="348.18" width="2.85" height="33.53" fill="#f23645"/>
<rect x="902.05" y="339.39" width="0.72" height="41.82" fill="#089981"/>
<rect x="900.99" y="346.05" width="2.85" height="35.16" fill="#089981"/>
<rect x="905.61" y="320.11" width="0.72" height="33.10" fill="#089981"/>
<rect x="904.55" y="327.14" width="2.85" height="18.53" fill="#089981"/>
<rect x="909.17" y="324.25" width="0.72" height="42.14" fill="#f23645"/>
<rect x="908.11" y="327.14" width="2.85" height="35.48" fill="#f23645"/>
<rect x="912.73" y="353.21" width="0.72" height="21.72" fill="#089981"/>
<rect x="911.67" y="361.12" width="2.85" height="1.50" fill="#089981"/>
<rect x="916.29" y="354.09" width="0.72" height="18.58" fill="#f23645"/>
<rect x="915.23" y="361.62" width="2.85" height="1.00" fill="#f23645"/>
<rect x="919.85" y="363.88" width="0.72" height="25.74" fill="#f23645"/>
<rect x="918.79" y="363.88" width="2.85" height="22.60" fill="#f23645"/>
<rect x="923.41" y="359.11" width="0.72" height="27.62" fill="#089981"/>
<rect x="922.35" y="359.11" width="2.85" height="27.62" fill="#089981"/>
<rect x="926.97" y="334.37" width="0.72" height="43.07" fill="#f23645"/>
<rect x="925.91" y="359.11" width="2.85" height="3.77" fill="#f23645"/>
<rect x="930.53" y="342.79" width="0.72" height="28.00" fill="#f23645"/>
<rect x="929.47" y="362.88" width="2.85" height="6.02" fill="#f23645"/>
<rect x="934.09" y="354.09" width="0.72" height="25.49" fill="#f23645"/>
<rect x="933.03" y="368.65" width="2.85" height="9.04" fill="#f23645"/>
<rect x="937.65" y="363.63" width="0.72" height="19.08" fill="#089981"/>
<rect x="936.59" y="367.90" width="2.85" height="7.03" fill="#089981"/>
<rect x="941.21" y="367.40" width="0.72" height="10.92" fill="#f23645"/>
<rect x="940.15" y="367.40" width="2.85" height="3.01" fill="#f23645"/>
<rect x="944.77" y="370.41" width="0.72" height="12.56" fill="#f23645"/>
<rect x="943.71" y="370.41" width="2.85" height="5.02" fill="#f23645"/>
<rect x="948.33" y="369.91" width="0.72" height="8.79" fill="#089981"/>
<rect x="947.27" y="371.16" width="2.85" height="4.27" fill="#089981"/>
<rect x="951.89" y="371.41" width="0.72" height="11.30" fill="#f23645"/>
<rect x="950.83" y="371.41" width="2.85" height="4.40" fill="#f23645"/>
<rect x="955.45" y="363.25" width="0.72" height="65.49" fill="#f23645"/>
<rect x="954.39" y="375.18" width="2.85" height="53.56" fill="#f23645"/>
<rect x="959.01" y="389.18" width="0.72" height="39.56" fill="#089981"/>
<rect x="957.95" y="397.09" width="2.85" height="31.65" fill="#089981"/>
<rect x="963.02" y="392.95" width="0.72" height="18.84" fill="#f23645"/>
<rect x="961.96" y="393.83" width="2.85" height="6.66" fill="#f23645"/>
<rect x="966.13" y="400.63" width="0.72" height="21.04" fill="#f23645"/>
<rect x="965.07" y="404.08" width="2.85" height="14.76" fill="#f23645"/>
<rect x="969.69" y="398.12" width="0.72" height="21.67" fill="#089981"/>
<rect x="968.63" y="413.94" width="2.85" height="5.85" fill="#089981"/>
<rect x="973.70" y="405.65" width="0.72" height="13.19" fill="#089981"/>
<rect x="972.64" y="410.80" width="2.85" height="2.08" fill="#089981"/>
<rect x="977.16" y="409.11" width="0.72" height="9.73" fill="#f23645"/>
<rect x="976.10" y="412.56" width="2.85" height="3.14" fill="#f23645"/>
<rect x="980.97" y="411.62" width="0.72" height="12.25" fill="#f23645" fill-opacity="0.6"/>
<rect x="979.91" y="413.82" width="2.85" height="4.08" fill="#f23645" fill-opacity="0.6"/>
</g>
<rect x="982" y="6" width="40.2" height="440" fill="#ffffff"/>
<rect x="1" y="428" width="1021.2" height="18" fill="#ffffff"/>
<text x="987.00" y="26.41" font-size="9.20" font-weight="400" fill="#131722" textLength="27.30" lengthAdjust="spacingAndGlyphs" stroke="#131722" stroke-width="0.12">7 475,0</text>
<text x="987.00" y="47.85" font-size="9.20" font-weight="400" fill="#131722" textLength="27.30" lengthAdjust="spacingAndGlyphs" stroke="#131722" stroke-width="0.12">7 450,0</text>
<text x="987.00" y="69.29" font-size="9.20" font-weight="400" fill="#131722" textLength="27.30" lengthAdjust="spacingAndGlyphs" stroke="#131722" stroke-width="0.12">7 425,0</text>
<text x="987.00" y="90.73" font-size="9.20" font-weight="400" fill="#131722" textLength="27.30" lengthAdjust="spacingAndGlyphs" stroke="#131722" stroke-width="0.12">7 400,0</text>
<text x="987.00" y="112.16" font-size="9.20" font-weight="400" fill="#131722" textLength="27.30" lengthAdjust="spacingAndGlyphs" stroke="#131722" stroke-width="0.12">7 375,0</text>
<text x="987.00" y="133.60" font-size="9.20" font-weight="400" fill="#131722" textLength="27.30" lengthAdjust="spacingAndGlyphs" stroke="#131722" stroke-width="0.12">7 350,0</text>
<text x="987.00" y="155.04" font-size="9.20" font-weight="400" fill="#131722" textLength="27.30" lengthAdjust="spacingAndGlyphs" stroke="#131722" stroke-width="0.12">7 325,0</text>
<text x="987.00" y="176.47" font-size="9.20" font-weight="400" fill="#131722" textLength="27.30" lengthAdjust="spacingAndGlyphs" stroke="#131722" stroke-width="0.12">7 300,0</text>
<text x="987.00" y="197.91" font-size="9.20" font-weight="400" fill="#131722" textLength="27.30" lengthAdjust="spacingAndGlyphs" stroke="#131722" stroke-width="0.12">7 275,0</text>
<text x="987.00" y="219.35" font-size="9.20" font-weight="400" fill="#131722" textLength="27.30" lengthAdjust="spacingAndGlyphs" stroke="#131722" stroke-width="0.12">7 250,0</text>
<text x="987.00" y="240.79" font-size="9.20" font-weight="400" fill="#131722" textLength="27.30" lengthAdjust="spacingAndGlyphs" stroke="#131722" stroke-width="0.12">7 225,0</text>
<text x="987.00" y="262.22" font-size="9.20" font-weight="400" fill="#131722" textLength="27.30" lengthAdjust="spacingAndGlyphs" stroke="#131722" stroke-width="0.12">7 200,0</text>
<text x="987.00" y="283.66" font-size="9.20" font-weight="400" fill="#131722" textLength="27.30" lengthAdjust="spacingAndGlyphs" stroke="#131722" stroke-width="0.12">7 175,0</text>
<text x="987.00" y="305.10" font-size="9.20" font-weight="400" fill="#131722" textLength="27.30" lengthAdjust="spacingAndGlyphs" stroke="#131722" stroke-width="0.12">7 150,0</text>
<text x="987.00" y="326.54" font-size="9.20" font-weight="400" fill="#131722" textLength="27.30" lengthAdjust="spacingAndGlyphs" stroke="#131722" stroke-width="0.12">7 125,0</text>
<text x="987.00" y="347.97" font-size="9.20" font-weight="400" fill="#131722" textLength="27.30" lengthAdjust="spacingAndGlyphs" stroke="#131722" stroke-width="0.12">7 100,0</text>
<text x="987.00" y="369.41" font-size="9.20" font-weight="400" fill="#131722" textLength="27.30" lengthAdjust="spacingAndGlyphs" stroke="#131722" stroke-width="0.12">7 075,0</text>
<text x="987.00" y="390.85" font-size="9.20" font-weight="400" fill="#131722" textLength="27.30" lengthAdjust="spacingAndGlyphs" stroke="#131722" stroke-width="0.12">7 050,0</text>
<text x="987.00" y="412.29" font-size="9.20" font-weight="400" fill="#131722" textLength="27.30" lengthAdjust="spacingAndGlyphs" stroke="#131722" stroke-width="0.12">7 025,0</text>
<text x="40.05" y="441.00" font-size="9.10" font-weight="400" fill="#131722" textLength="7.80" lengthAdjust="spacingAndGlyphs" stroke="#131722" stroke-width="0.13">11</text>
<text x="100.37" y="441.00" font-size="9.10" font-weight="400" fill="#131722" textLength="9.00" lengthAdjust="spacingAndGlyphs" stroke="#131722" stroke-width="0.13">12</text>
<text x="160.89" y="441.00" font-size="9.10" font-weight="400" fill="#131722" textLength="9.00" lengthAdjust="spacingAndGlyphs" stroke="#131722" stroke-width="0.13">13</text>
<text x="221.41" y="441.00" font-size="9.10" font-weight="400" fill="#131722" textLength="9.00" lengthAdjust="spacingAndGlyphs" stroke="#131722" stroke-width="0.13">14</text>
<text x="281.93" y="441.00" font-size="9.10" font-weight="400" fill="#131722" textLength="9.00" lengthAdjust="spacingAndGlyphs" stroke="#131722" stroke-width="0.13">15</text>
<text x="345.51" y="441.00" font-size="9.10" font-weight="700" fill="#131722" textLength="10.00" lengthAdjust="spacingAndGlyphs" stroke="#131722" stroke-width="0.00">17</text>
<text x="406.53" y="441.00" font-size="9.10" font-weight="400" fill="#131722" textLength="9.00" lengthAdjust="spacingAndGlyphs" stroke="#131722" stroke-width="0.13">18</text>
<text x="467.05" y="441.00" font-size="9.10" font-weight="400" fill="#131722" textLength="9.00" lengthAdjust="spacingAndGlyphs" stroke="#131722" stroke-width="0.13">19</text>
<text x="527.57" y="441.00" font-size="9.10" font-weight="400" fill="#131722" textLength="9.00" lengthAdjust="spacingAndGlyphs" stroke="#131722" stroke-width="0.13">20</text>
<text x="588.09" y="441.00" font-size="9.10" font-weight="400" fill="#131722" textLength="9.00" lengthAdjust="spacingAndGlyphs" stroke="#131722" stroke-width="0.13">21</text>
<text x="648.11" y="441.00" font-size="9.10" font-weight="700" fill="#131722" textLength="10.00" lengthAdjust="spacingAndGlyphs" stroke="#131722" stroke-width="0.00">24</text>
<text x="709.13" y="441.00" font-size="9.10" font-weight="400" fill="#131722" textLength="9.00" lengthAdjust="spacingAndGlyphs" stroke="#131722" stroke-width="0.13">25</text>
<text x="769.65" y="441.00" font-size="9.10" font-weight="400" fill="#131722" textLength="9.00" lengthAdjust="spacingAndGlyphs" stroke="#131722" stroke-width="0.13">26</text>
<text x="830.17" y="441.00" font-size="9.10" font-weight="400" fill="#131722" textLength="9.00" lengthAdjust="spacingAndGlyphs" stroke="#131722" stroke-width="0.13">27</text>
<text x="890.69" y="441.00" font-size="9.10" font-weight="400" fill="#131722" textLength="9.00" lengthAdjust="spacingAndGlyphs" stroke="#131722" stroke-width="0.13">28</text>
<text x="951.21" y="441.00" font-size="9.10" font-weight="400" fill="#131722" textLength="9.00" lengthAdjust="spacingAndGlyphs" stroke="#131722" stroke-width="0.13">29</text>
<circle cx="13.9" cy="13.2" r="6.6" fill="#e8112d"/>
<rect x="10.4" y="10.0" width="7.2" height="6.1" fill="#ffffff" fill-opacity="0.28" stroke="#ffffff" stroke-opacity="0.9" stroke-width="0.75"/>
<path d="M11.5 11.3 H13.6 M11.5 12.6 H13.2 M12.4 14.6 H13 M14.2 14.9 H15.6 M15.4 11 L16.4 12.4" fill="none" stroke="#ffffff" stroke-opacity="0.8" stroke-width="0.8"/>
<text x="23.20" y="17.65" font-size="12.10" font-weight="400" fill="#131722" textLength="44.00" lengthAdjust="spacingAndGlyphs" stroke="#131722" stroke-width="0.28">ЛУКОЙЛ</text>
<text x="69.70" y="19.90" font-size="16.00" font-weight="700" fill="#131722" textLength="3.80" lengthAdjust="spacingAndGlyphs" stroke="#131722" stroke-width="0.00">·</text>
<text x="76.70" y="17.65" font-size="12.10" font-weight="400" fill="#131722" textLength="11.00" lengthAdjust="spacingAndGlyphs" stroke="#131722" stroke-width="0.28">1ч</text>
<text x="90.10" y="19.90" font-size="16.00" font-weight="700" fill="#131722" textLength="3.80" lengthAdjust="spacingAndGlyphs" stroke="#131722" stroke-width="0.00">·</text>
<text x="96.90" y="17.65" font-size="12.10" font-weight="400" fill="#131722" textLength="18.90" lengthAdjust="spacingAndGlyphs" stroke="#131722" stroke-width="0.28">RUS</text>
<path d="M132.8 7.2 H141 V18.8 H132.8 A5.8 5.8 0 0 1 132.8 7.2 Z" fill="#d9f0ea"/>
<path d="M141 7.2 H149.4 A5.8 5.8 0 0 1 149.4 18.8 H141 Z" fill="#fcdde7"/>
<circle cx="134.7" cy="13" r="3" fill="#089981"/>
<text x="143.90" y="16.60" font-size="11.00" font-weight="700" fill="#e91e63" textLength="6.30" lengthAdjust="spacingAndGlyphs" stroke="#e91e63" stroke-width="0.00">≈</text>
<text x="166.90" y="16.90" font-size="9.70" font-weight="400" fill="#131722" textLength="22.10" lengthAdjust="spacingAndGlyphs" stroke="#131722" stroke-width="0.18">ОТКР</text>
<text x="190.60" y="16.90" font-size="9.70" font-weight="400" fill="#089981" textLength="29.15" lengthAdjust="spacingAndGlyphs" stroke="#089981" stroke-width="0.10">6 354,0</text>
<text x="224.40" y="16.90" font-size="9.70" font-weight="400" fill="#131722" textLength="22.50" lengthAdjust="spacingAndGlyphs" stroke="#131722" stroke-width="0.18">МАКС</text>
<text x="248.50" y="16.90" font-size="9.70" font-weight="400" fill="#089981" textLength="29.60" lengthAdjust="spacingAndGlyphs" stroke="#089981" stroke-width="0.10">6 391,0</text>
<text x="282.60" y="16.90" font-size="9.70" font-weight="400" fill="#131722" textLength="18.40" lengthAdjust="spacingAndGlyphs" stroke="#131722" stroke-width="0.18">МИН</text>
<text x="302.60" y="16.90" font-size="9.70" font-weight="400" fill="#089981" textLength="29.15" lengthAdjust="spacingAndGlyphs" stroke="#089981" stroke-width="0.10">6 354,0</text>
<text x="336.40" y="16.90" font-size="9.70" font-weight="400" fill="#131722" textLength="20.85" lengthAdjust="spacingAndGlyphs" stroke="#131722" stroke-width="0.18">ЗАКР</text>
<text x="358.25" y="16.90" font-size="9.70" font-weight="400" fill="#089981" textLength="28.75" lengthAdjust="spacingAndGlyphs" stroke="#089981" stroke-width="0.10">6 391,0</text>
<text x="392.60" y="16.90" font-size="9.70" font-weight="400" fill="#089981" textLength="59.40" lengthAdjust="spacingAndGlyphs" stroke="#089981" stroke-width="0.10">+37,0 (+0,58%)</text>
<rect x="7.4" y="24.6" width="50.6" height="23.8" rx="3.5" fill="#ffffff" stroke="#f7525f" stroke-width="0.9"/>
<rect x="80.4" y="24.6" width="45.6" height="23.8" rx="3.5" fill="#ffffff" stroke="#2962ff" stroke-width="0.9"/>
<text x="17.60" y="35.30" font-size="9.30" font-weight="700" fill="#f23645" textLength="30.10" lengthAdjust="spacingAndGlyphs" stroke="#f23645" stroke-width="0.00">6 391,0</text>
<text x="14.80" y="44.90" font-size="8.00" font-weight="400" fill="#f23645" textLength="35.50" lengthAdjust="spacingAndGlyphs" stroke="#f23645" stroke-width="0.15">ПРОДАТЬ</text>
<text x="63.90" y="40.00" font-size="8.20" font-weight="400" fill="#131722" textLength="10.40" lengthAdjust="spacingAndGlyphs" stroke="#131722" stroke-width="0.10">0,0</text>
<text x="88.20" y="35.30" font-size="9.30" font-weight="700" fill="#2962ff" textLength="30.20" lengthAdjust="spacingAndGlyphs" stroke="#2962ff" stroke-width="0.00">6 391,0</text>
<text x="87.60" y="44.90" font-size="8.00" font-weight="400" fill="#2962ff" textLength="31.00" lengthAdjust="spacingAndGlyphs" stroke="#2962ff" stroke-width="0.15">КУПИТЬ</text>
<rect x="982" y="6" width="39" height="18.7" fill="#ffffff"/>
<rect x="983.4" y="4.1" width="36" height="18.5" rx="3" fill="#ffffff" stroke="#f0f0f0" stroke-width="0.8"/>
<text x="986.90" y="16.80" font-size="9.40" font-weight="400" fill="#131722" textLength="14.70" lengthAdjust="spacingAndGlyphs" stroke="#131722" stroke-width="0.15">RUB</text>
<path d="M1011.8 12.3 L1013.9 14.2 L1016 12.3" fill="none" stroke="#131722" stroke-width="1"/>
<rect x="984" y="407.3" width="37" height="18.5" fill="#ffffff"/>
<rect x="986" y="409.4" width="13.3" height="14.8" rx="2.5" fill="#ffffff" stroke="#f0f0f0" stroke-width="0.8"/>
<rect x="1003.3" y="409.4" width="13.3" height="14.8" rx="2.5" fill="#ffffff" stroke="#f0f0f0" stroke-width="0.8"/>
<text x="990.00" y="420.40" font-size="10.00" font-weight="400" fill="#131722" textLength="6.10" lengthAdjust="spacingAndGlyphs" stroke="#131722" stroke-width="0.10">А</text>
<text x="1007.10" y="420.40" font-size="10.00" font-weight="400" fill="#131722" textLength="6.30" lengthAdjust="spacingAndGlyphs" stroke="#131722" stroke-width="0.10">Л</text>
<path d="M996.9 438 L999.4 433.3 L1004.6 433.3 L1007.1 438 L1004.6 442.7 L999.4 442.7 Z" fill="none" stroke="#3a3d46" stroke-width="0.9" stroke-linejoin="round"/>
<circle cx="1002" cy="438" r="1.7" fill="none" stroke="#3a3d46" stroke-width="0.9"/>
<g fill="#0e1016"><path d="M10 406.9 H18.3 V417.7 H14.1 V411.2 H10 Z"/><circle cx="21.4" cy="409.1" r="2.1"/><path d="M25.6 406.9 H30.9 L26.4 417.7 H21.2 Z"/></g>
<text x="36.30" y="417.40" font-size="14.20" font-weight="700" fill="#0e1016" textLength="85.50" lengthAdjust="spacingAndGlyphs" stroke="#0e1016" stroke-width="0.30">TradingView</text>
</svg></body></html>
